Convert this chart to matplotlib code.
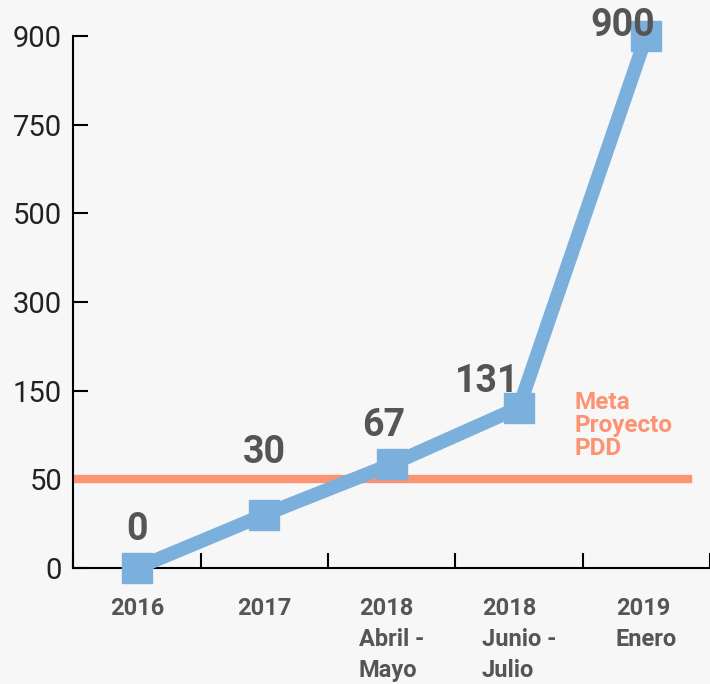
import numpy as np
import matplotlib
matplotlib.use("Agg")
import matplotlib.pyplot as plt

# data
categories = ["2016", "2017", "2018\nAbril -\nMayo", "2018\nJunio -\nJulio", "2019\nEnero"]
values = [0, 30, 67, 131, 900]
y_ticks = [0, 50, 150, 300, 500, 750, 900]
goal = 50
goal_label = "Meta\nProyecto\nPDD"

# label offsets in points (dx, dy) relative to the marker
label_offsets = [(0, 20), (0, 37), (-6, 20), (-23, 11), (-17, 0)]

BLUE = "#7ab0db"
ORANGE = "#fc9474"
GRAY = "#555555"
BG = "#f7f7f7"

plt.rcParams["font.family"] = ["Roboto", "DejaVu Sans"]

fig = plt.figure(figsize=(7.10, 6.84), dpi=100, facecolor=BG)
ax = fig.add_axes([0.103, 0.1696, 0.897, 0.7778], facecolor=BG)

# y axis: evenly spaced ticks, piecewise linear between them
idx = np.arange(len(y_ticks), dtype=float)
fwd = lambda v: np.interp(v, y_ticks, idx)
inv = lambda v: np.interp(v, idx, y_ticks)
ax.set_yscale("function", functions=(fwd, inv))
ax.set_ylim(0, 900)

x = np.arange(len(categories))
ax.set_xlim(-0.5, len(categories) - 0.5)

ax.axhline(goal, xmin=0.005, xmax=0.965, color=ORANGE, lw=6, zorder=2)
ax.plot(x, values, color=BLUE, lw=10, marker="s", ms=21, mfc=BLUE, mec=BLUE,
        solid_joinstyle="miter", zorder=3, clip_on=False)

for xi, v, (dx, dy) in zip(x, values, label_offsets):
    ax.annotate(str(v), (xi, v), xytext=(dx, dy), textcoords="offset points",
                ha="center", va="baseline", fontsize=27, fontweight="bold",
                color=GRAY, zorder=4)

ax.text(3.44, 150, goal_label, color=ORANGE, fontsize=17.5, fontweight="bold",
        ha="left", va="top", linespacing=1.0)

ax.set_yticks(y_ticks)
ax.set_yticklabels([str(t) for t in y_ticks], fontsize=21, fontweight="normal",
                   color="#222222")
ax.tick_params(axis="y", direction="in", length=11, width=1.5, pad=8)

ax.set_xticks(x)
ax.set_xticklabels(categories, fontsize=17, fontweight="bold", color=GRAY,
                   linespacing=1.45, multialignment="left")
ax.tick_params(axis="x", length=0, pad=21)
ax.set_xticks(np.arange(-0.5, len(categories) + 0.5), minor=True)
ax.tick_params(axis="x", which="minor", direction="in", length=11, width=1.5)

for s in ["top", "right"]:
    ax.spines[s].set_visible(False)
for s in ["left", "bottom"]:
    ax.spines[s].set_linewidth(1.5)
ax.spines["bottom"].set_zorder(1)

fig.savefig("out.png", dpi=100, facecolor=BG)
